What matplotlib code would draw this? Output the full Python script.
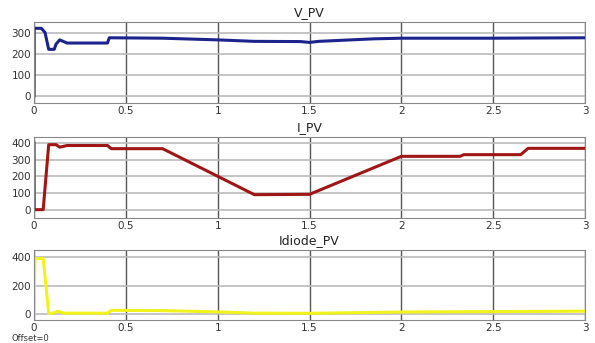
import numpy as np
import matplotlib.pyplot as plt

# -----------------------------
# signal traces
# -----------------------------

t_v = [0, 0.001, 0.04, 0.06, 0.08, 0.11, 0.12, 0.14, 0.18, 0.40, 0.41, 0.70, 1.00, 1.20, 1.45, 1.50, 1.55, 1.85, 2.00, 2.50, 3.00]
v_pv = [0, 320, 320, 300, 220, 220, 245, 265, 250, 250, 275, 273, 265, 258, 257, 253, 258, 270, 273, 273, 275]

t_i = [0, 0.001, 0.05, 0.08, 0.12, 0.14, 0.18, 0.40, 0.42, 0.70, 1.20, 1.50, 2.00, 2.32, 2.34, 2.65, 2.69, 3.00]
i_pv = [400, 0, 0, 390, 390, 375, 385, 385, 366, 366, 90, 92, 320, 320, 330, 330, 368, 368]

t_d = [0, 0.005, 0.05, 0.08, 0.10, 0.13, 0.16, 0.40, 0.42, 0.70, 1.00, 1.20, 1.50, 2.00, 3.00]
i_diode = [0, 390, 390, 5, 5, 20, 6, 6, 26, 24, 15, 6, 5, 14, 20]

panels = [
    ("V_PV", t_v, v_pv, "#1c238c", [0, 100, 200, 300], (-35, 350)),
    ("I_PV", t_i, i_pv, "#a01515", [0, 100, 200, 300, 400], (-50, 436)),
    ("Idiode_PV", t_d, i_diode, "#f2f21c", [0, 200, 400], (-42, 450)),
]
xticks = [0, 0.5, 1, 1.5, 2, 2.5, 3]
xlabels = ["0", "0.5", "1", "1.5", "2", "2.5", "3"]

fig = plt.figure(figsize=(5.95, 3.43), dpi=100)
W, H = 595, 343
boxes = [(22, 103), (137, 218), (250, 320)]

for (title, t, y, color, yticks, ylim), (top, bottom) in zip(panels, boxes):
    ax = fig.add_axes([34 / W, 1 - bottom / H, (585 - 34) / W, (bottom - top) / H])
    ax.plot(t, y, color=color, lw=2.2)
    ax.set_xlim(0, 3)
    ax.set_ylim(*ylim)
    ax.set_xticks(xticks)
    ax.set_xticklabels(xlabels)
    ax.set_yticks(yticks)
    ax.tick_params(labelsize=7.5, length=0, pad=2, colors="#333333")
    ax.xaxis.grid(True, color="#555555", lw=1)
    ax.yaxis.grid(True, color="#bbbbbb", lw=1.2)
    ax.set_axisbelow(True)
    for s in ax.spines.values():
        s.set_color("#888888")
    ax.set_title(title, fontsize=9, pad=4, color="#222222")

fig.text(12 / W, 1 - 343 / H, "Offset=0", fontsize=6, color="#333333", va="bottom")

plt.savefig("out.png", dpi=100)
